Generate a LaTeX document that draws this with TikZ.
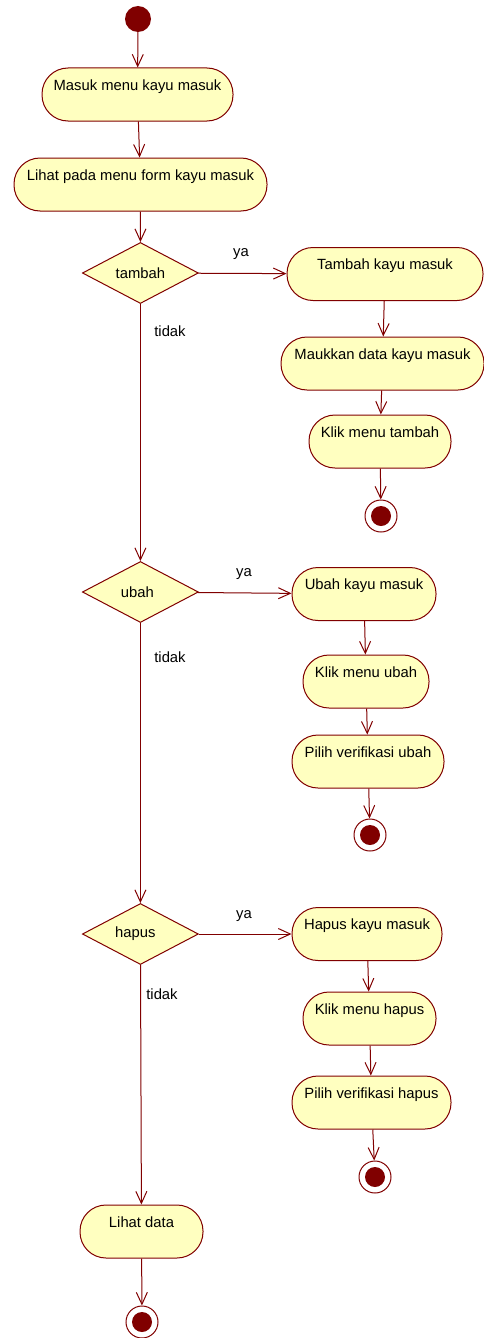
\documentclass[tikz,border=0pt]{standalone}
\usepackage{fontspec}
\setmainfont{Liberation Sans}
\usepackage{xcolor}
\usetikzlibrary{arrows.meta, positioning, shapes.geometric}

\definecolor{umlline}{RGB}{128,0,0}
\definecolor{umlfill}{RGB}{255,255,192}

\begin{document}
\begin{tikzpicture}[
  x=1pt, y=-1pt,
  every node/.style={font=\fontsize{14.8}{17}\selectfont},
  activity/.style={rectangle, rounded corners=26pt, draw=umlline, fill=umlfill, line width=1pt,
    align=center, inner xsep=6pt, inner ysep=0pt, text height=22pt, text depth=31pt},
  decision/.style={diamond, draw=umlline, fill=umlfill, line width=1pt, inner sep=0pt,
    minimum width=116pt, minimum height=61pt},
  initial/.style={circle, fill=umlline, minimum size=26pt, inner sep=0pt},
  final/.style={circle, draw=umlline, fill=white, line width=1pt, minimum size=32pt, inner sep=0pt,
    path picture={\fill[umlline] (path picture bounding box.center) circle (10pt);}},
  guard/.style={inner sep=0pt},
  arrow/.style={draw=umlline, line width=1pt, -{Straight Barb[length=12pt, width=11pt, line width=1pt]}}
]
\useasboundingbox (0,0) rectangle (484,1338);

% Nodes
\node[initial] (start) at (138,19) {};
\node[activity, minimum width=191pt] (masuk) at (137.5,94.5) {Masuk menu kayu masuk};
\node[activity, minimum width=253pt] (form) at (140.5,184.5) {Lihat pada menu form kayu masuk};

\node[decision] (tambah) at (140.4,273) {tambah};
\node[activity, minimum width=196pt] (tambahkayu) at (385,274) {Tambah kayu masuk};
\node[activity, minimum width=203pt] (maukkan) at (382.5,363.5) {Maukkan data kayu masuk};
\node[activity, minimum width=142pt] (kliktambah) at (380,441.5) {Klik menu tambah};
\node[final] (endtambah) at (381,516) {};

\node[decision] (ubah) at (140.4,592) {\hspace*{-6pt}ubah};
\node[activity, minimum width=144pt] (ubahkayu) at (364,594) {Ubah kayu masuk};
\node[activity, minimum width=126pt] (klikubah) at (366,681.5) {Klik menu ubah};
\node[activity, minimum width=152pt] (verifubah) at (368,761.5) {Pilih verifikasi ubah};
\node[final] (endubah) at (370,835) {};

\node[decision] (hapus) at (140.4,934) {\hspace*{-10pt}hapus};
\node[activity, minimum width=150pt] (hapuskayu) at (367,934) {Hapus kayu masuk};
\node[activity, minimum width=133pt] (klikhapus) at (369.5,1018.5) {Klik menu hapus};
\node[activity, minimum width=159pt] (verifhapus) at (371.5,1102.5) {Pilih verifikasi hapus};
\node[final] (endhapus) at (375,1177) {};

\node[activity, minimum width=123pt] (lihatdata) at (141.5,1231.5) {Lihat data};
\node[final] (enddata) at (142,1322) {};

% Guards
\node[guard] (yatambah) at (241,254) {ya};
\node[guard] (tidaktambah) at (170,331) {tidak};
\node[guard] (yaubah) at (244,574) {ya};
\node[guard] (tidakubah) at (170,657) {tidak};
\node[guard] (yahapus) at (244,916) {ya};
\node[guard] (tidakhapus) at (162,994) {tidak};

% Arrows
\draw[arrow] (start) -- (masuk);
\draw[arrow] (masuk) -- (form);
\draw[arrow] (form) -- (tambah);

\draw[arrow] (tambah) -- (tambahkayu);
\draw[arrow] (tambahkayu) -- (maukkan);
\draw[arrow] (maukkan) -- (kliktambah);
\draw[arrow] (kliktambah) -- (endtambah);

\draw[arrow] (tambah) -- (ubah);
\draw[arrow] (ubah) -- (ubahkayu);
\draw[arrow] (ubahkayu) -- (klikubah);
\draw[arrow] (klikubah) -- (verifubah);
\draw[arrow] (verifubah) -- (endubah);

\draw[arrow] (ubah) -- (hapus);
\draw[arrow] (hapus) -- (hapuskayu);
\draw[arrow] (hapuskayu) -- (klikhapus);
\draw[arrow] (klikhapus) -- (verifhapus);
\draw[arrow] (verifhapus) -- (endhapus);

\draw[arrow] (hapus) -- (lihatdata);
\draw[arrow] (lihatdata) -- (enddata);

\end{tikzpicture}
\end{document}
